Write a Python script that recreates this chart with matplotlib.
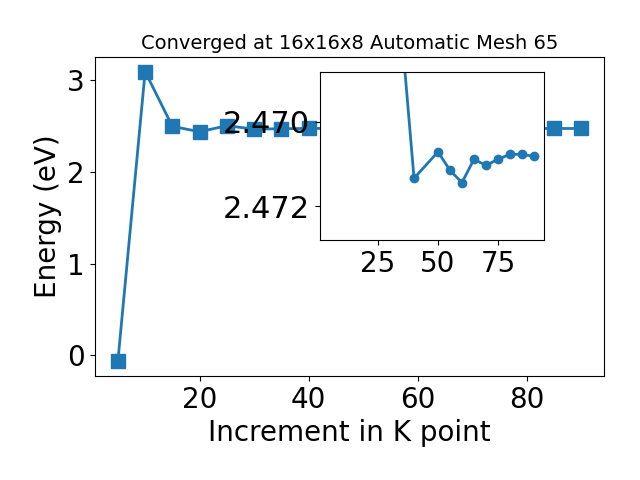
import matplotlib
matplotlib.use("Agg")
import matplotlib.pyplot as plt
from matplotlib.ticker import FormatStrFormatter

# k-point increments and total energies (eV)
kpoints = [5, 10, 15, 20, 25, 30, 35, 40, 50, 55, 60, 65, 70, 75, 80, 85, 90]
energy = [-0.065, 3.09, 2.494, 2.435, 2.501, 2.464, 2.4680, 2.47134,
          2.47071, 2.47115, 2.47144, 2.47089, 2.47103, 2.47089, 2.47077,
          2.47077, 2.47082]
zoom_start = 6  # inset shows the converged part only

title = "Converged at 16x16x8 Automatic Mesh 65"


def plot_convergence():
    fig = plt.figure(figsize=(6.4, 4.8), dpi=100)
    ax = fig.add_axes([0.148, 0.217, 0.796, 0.664])
    ax.plot(kpoints, energy, marker='s', markersize=10, linewidth=2, color='#1f77b4')
    ax.set_title(title, fontsize=14)
    ax.set_xlabel('Increment in K point', fontsize=20)
    ax.set_ylabel('Energy (eV)', fontsize=20)
    ax.set_xticks([20, 40, 60, 80])
    ax.set_yticks([0, 1, 2, 3])
    ax.tick_params(labelsize=20)

    # zoomed inset of the converged region
    ins = fig.add_axes([0.5, 0.5, 0.35, 0.35])
    ins.plot(kpoints[zoom_start:], energy[zoom_start:], marker='o', markersize=6,
             linewidth=2, color='#1f77b4')
    ins.set_xlim(ax.get_xlim())
    ins.set_ylim(2.4728, 2.46882)
    ins.set_xticks([25, 50, 75])
    ins.set_yticks([2.470, 2.472])
    ins.yaxis.set_major_formatter(FormatStrFormatter('%.3f'))
    ins.tick_params(labelsize=20)
    ins.tick_params(axis='y', labelsize=22)

    fig.savefig('out.png', dpi=100)


if __name__ == "__main__":
    plot_convergence()
